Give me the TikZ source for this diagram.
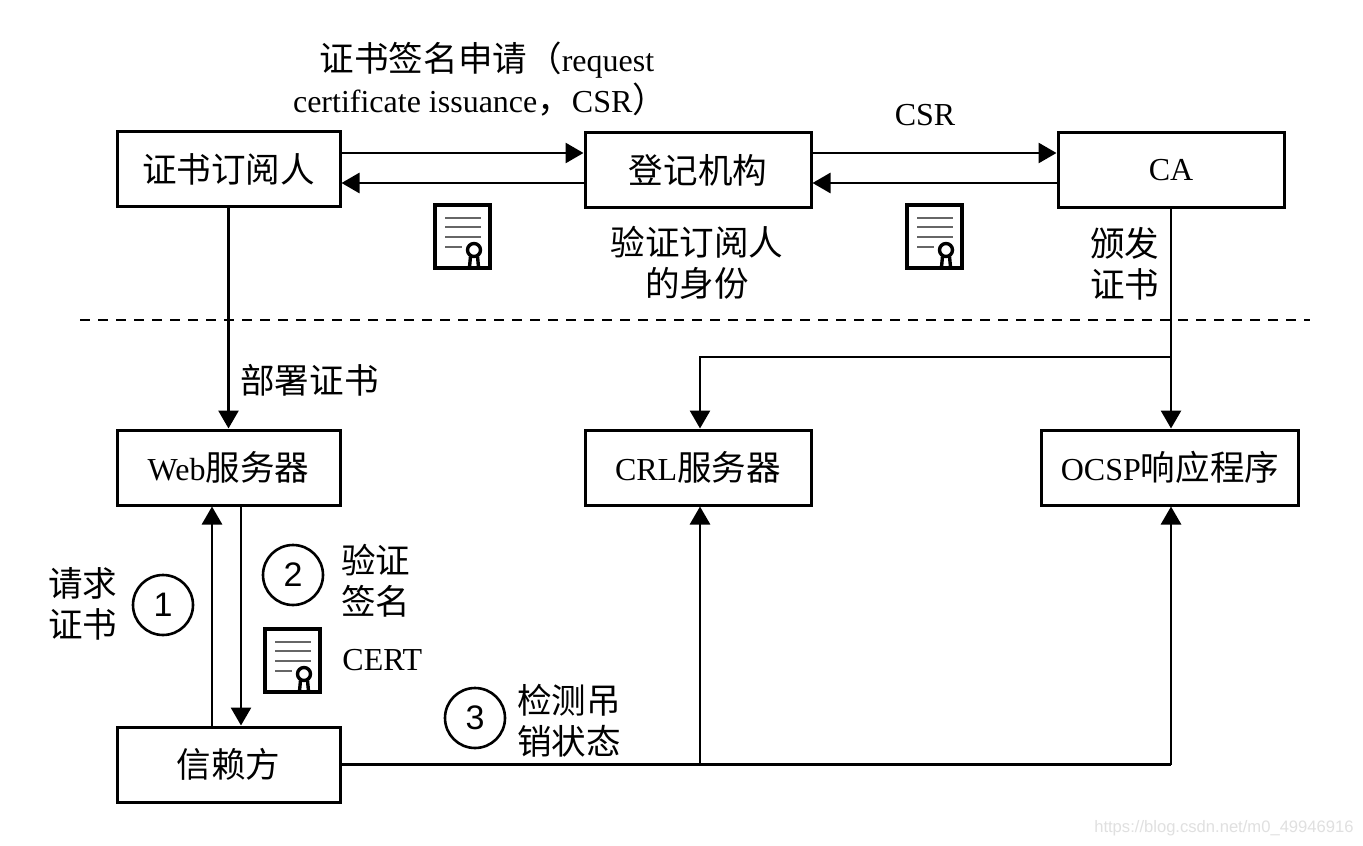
\documentclass[tikz,border=0pt]{standalone}
\usepackage{fontspec}
\setmainfont{Liberation Serif}
\newfontfamily\cjk[Scale=1.08]{Noto Sans CJK SC}
\newfontfamily\numfont{Liberation Sans}
\usetikzlibrary{arrows.meta}
\begin{document}
\begin{tikzpicture}[x=0.5pt,y=-0.5pt,
 box/.style={draw,line width=1.5pt,minimum height=37.5pt,inner sep=0pt,font=\fontsize{16}{20}\selectfont},
 arr/.style={line width=1.4pt,-{Triangle[length=9pt,width=10pt]}},
 ln/.style={line width=1.4pt},
 lbl/.style={inner sep=0pt,font=\fontsize{16}{20.5}\selectfont},
 num/.style={draw,circle,line width=1.3pt,minimum size=30pt,inner sep=0pt,font=\numfont\fontsize{17}{17}\selectfont},
 certpic/.pic={
   \draw[line width=1.6pt] (0,0) rectangle (55,63);
   \draw[line width=1.4pt,black!60] (10,13)--(46,13) (10,22)--(46,22) (10,32)--(46,32) (10,42)--(27,42);
   \draw[line width=1.7pt] (39,45) circle (6.5);
   \draw[line width=1.7pt] (35.5,51.5)--(34.5,62) (42.5,51.5)--(43.5,62);
 }
]
\useasboundingbox (0,0) rectangle (1363,845);
\fill[white] (0,0) rectangle (1363,845);

% boxes
\node[box,minimum width=111.5pt] (sub) at (228.5,169) {{\cjk 证书订阅人}};
\node[box,minimum width=113pt] (ra) at (698,170) {{\cjk 登记机构}};
\node[box,minimum width=113pt] (ca) at (1171,170) {CA};
\node[box,minimum width=111.5pt] (web) at (228.5,467.5) {Web{\cjk 服务器}};
\node[box,minimum width=113pt] (crl) at (698,467.5) {CRL{\cjk 服务器}};
\node[box,minimum width=128.5pt] (ocsp) at (1170,467.5) {OCSP{\cjk 响应程序}};
\node[box,minimum width=111.5pt] (rp) at (228.5,764.5) {{\cjk 信赖方}};

% top arrows
\draw[arr] (sub.east |- 0,153) -- (ra.west |- 0,153);
\draw[arr] (ra.west |- 0,183) -- (sub.east |- 0,183);
\draw[arr] (ra.east |- 0,153) -- (ca.west |- 0,153);
\draw[arr] (ca.west |- 0,183) -- (ra.east |- 0,183);

% deploy
\draw[arr] (sub.south) -- (web.north);

% CA distribution
\coordinate (j) at (ca.south |- 0,357);
\draw[ln] (ca.south) -- (j);
\draw[arr] (j) -| ([xshift=1pt]crl.north);
\draw[arr] (j) -- (j |- ocsp.north);

% web <-> relying party
\draw[arr] ([xshift=-8.25pt]rp.north) -- ([xshift=-8.25pt]web.south);
\draw[arr] ([xshift=6.25pt]web.south) -- ([xshift=6.25pt]rp.north);

% revocation check
\coordinate (k) at (j |- rp.east);
\coordinate (m) at ([xshift=1pt]crl.south |- rp.east);
\draw[ln] (rp.east) -- (k);
\draw[arr] (k) -- (j |- ocsp.south);
\draw[arr] (m) -- ([xshift=1pt]crl.south);

% dashed separator
\draw[line width=1pt,dash pattern=on 5pt off 4pt] (80,320) -- (1310,320);

% labels
\node[lbl] (t1) at (487,60) {{\cjk 证书签名申请（}request};
\node[lbl] (t2) at (480,100) {certificate issuance{\cjk ，}CSR{\cjk ）}};
\node[lbl] (csr) at (925,115) {CSR};
\node[lbl,align=center] (verid) at (697,263) {{\cjk 验证订阅人}\\{\cjk 的身份}};
\node[lbl,align=left,anchor=west] (issue) at (1090,264) {{\cjk 颁发}\\{\cjk 证书}};
\node[lbl,anchor=west] (deploy) at (240,380) {{\cjk 部署证书}};
\node[lbl,align=left,anchor=west] (req) at (48,604) {{\cjk 请求}\\{\cjk 证书}};
\node[lbl,align=left,anchor=west] (versig) at (341,581) {{\cjk 验证}\\{\cjk 签名}};
\node[lbl,anchor=west] (certt) at (342,660) {CERT};
\node[lbl,align=left,anchor=west] (chk) at (517,721) {{\cjk 检测吊}\\{\cjk 销状态}};

\node[num] (n1) at (163,605) {1};
\node[num] (n2) at (293,575) {2};
\node[num] (n3) at (475,718) {3};

% certificate icons
\pic (c1) at (435,205) {certpic};
\pic (c2) at (907,205) {certpic};
\pic (c3) at (265,629) {certpic};

% watermark
\node[inner sep=0pt,anchor=east,text=black!12,font=\numfont\fontsize{8.3}{10}\selectfont] (wm) at (1354,828) {https://blog.csdn.net/m0\_49946916};
\end{tikzpicture}
\end{document}
